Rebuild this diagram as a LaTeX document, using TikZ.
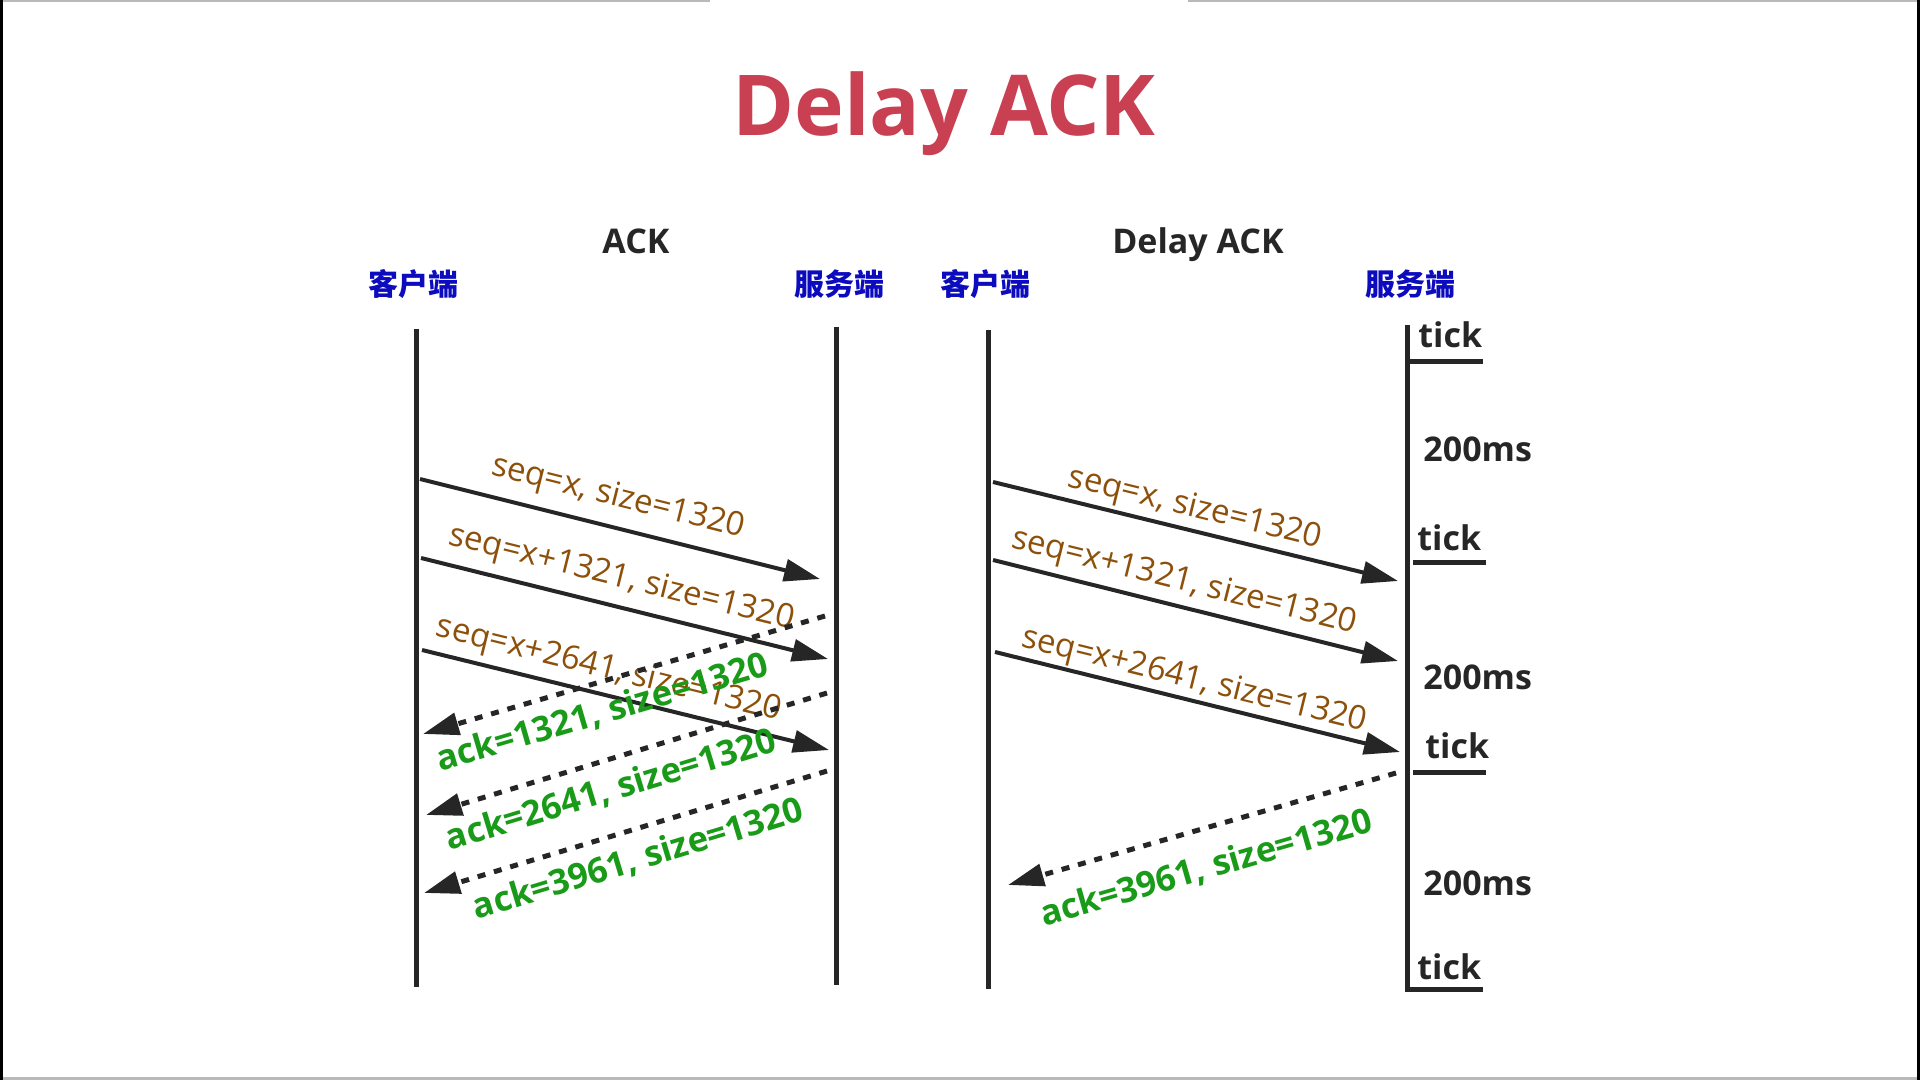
\documentclass[tikz,border=0pt]{standalone}
\usepackage{fontspec}
\setmainfont{Open Sans}
\newfontfamily\cjk{Noto Sans CJK SC}
\usetikzlibrary{arrows.meta}

\definecolor{titlered}{RGB}{201,64,82}
\definecolor{peerblue}{RGB}{12,12,190}
\definecolor{seqbrown}{RGB}{140,80,10}
\definecolor{ackgreen}{RGB}{25,155,25}
\definecolor{linegray}{RGB}{38,38,38}

\begin{document}
\begin{tikzpicture}[x=0.5pt, y=-0.5pt, >={Triangle[length=18pt,width=11pt]},
	lifeline/.style={color=linegray, line width=2.5pt},
	seqmsg/.style={->, color=linegray, line width=2pt},
	ackmsg/.style={->, color=linegray, line width=2.5pt, dash pattern=on 4pt off 4.5pt},
	seqlabel/.style={sloped, inner sep=0pt, text=seqbrown, font=\fontsize{16.5}{18}\selectfont},
	acklabel/.style={sloped, inner sep=0pt, text=ackgreen, font=\bfseries\fontsize{17.4}{19}\selectfont},
	peer/.style={inner sep=0pt, text=peerblue, font=\cjk\bfseries\fontsize{15}{17}\selectfont},
	heading/.style={anchor=base, inner sep=0pt, text=linegray, font=\bfseries\fontsize{17}{19}\selectfont},
	ticklabel/.style={anchor=base west, inner sep=0pt, text=linegray, font=\bfseries\fontsize{17}{19}\selectfont},
	waitlabel/.style={anchor=base west, inner sep=0pt, text=linegray, font=\bfseries\fontsize{17}{19}\selectfont}]

\useasboundingbox (0,0) rectangle (1920,1080);
\fill[white] (0,0) rectangle (1920,1080);

\draw[color=gray!55, line width=1pt] (0,1)--(710,1);
\draw[color=gray!55, line width=1pt] (1188,1)--(1920,1);
\draw[color=gray!55, line width=1.5pt] (0,1078)--(1920,1078);
\draw[color=black, line width=1.5pt] (1.5,0)--(1.5,1080);
\draw[color=black, line width=1.5pt] (1918,0)--(1918,1080);

\node (title) at (944,136) [anchor=base, inner sep=0pt, text=titlered,
	font=\bfseries\fontsize{42}{50}\selectfont] {Delay ACK};

\node (headA) at (636,254) [heading] {ACK};
\node (headB) at (1198,254) [heading] {Delay ACK};

\node (clientA) at (413,284) [peer] {客户端};
\node (serverA) at (839,284) [peer] {服务端};
\node (clientB) at (985,284) [peer] {客户端};
\node (serverB) at (1410,284) [peer] {服务端};

% lifelines
\coordinate (cAt) at (416,329);  \coordinate (cAb) at (416,987);
\coordinate (sAt) at (836,327);  \coordinate (sAb) at (836,985);
\coordinate (cBt) at (988,330);  \coordinate (cBb) at (988,989);
\coordinate (sBt) at (1407,325); \coordinate (sBb) at (1407,989);

\draw[lifeline] (cAt)--(cAb);
\draw[lifeline] (sAt)--(sAb);
\draw[lifeline] (cBt)--(cBb);
\draw[lifeline] (sBt)--(sBb)--(1483,989);

\draw[lifeline] (1407,362)--(1483,362);
\draw[lifeline] (1413,562)--(1486,562);
\draw[lifeline] (1413,772)--(1486,772);

\node (tick1) at (1418,348) [ticklabel] {tick};
\node (tick2) at (1417,550) [ticklabel] {tick};
\node (tick3) at (1425,758) [ticklabel] {tick};
\node (tick4) at (1417,979) [ticklabel] {tick};

\node (wait1) at (1423,461) [waitlabel] {200ms};
\node (wait2) at (1423,689) [waitlabel] {200ms};
\node (wait3) at (1423,895) [waitlabel] {200ms};

% ACK
\coordinate (cA1) at (420,479); \coordinate (sA1) at (820,579);
\coordinate (cA2) at (421,558); \coordinate (sA2) at (828,659);
\coordinate (cA3) at (422,650); \coordinate (sA3) at (829,750);
\coordinate (sA4) at (825,616); \coordinate (cA4) at (423,734);
\coordinate (sA5) at (827,693); \coordinate (cA5) at (426,815);
\coordinate (sA6) at (827,771); \coordinate (cA6) at (424,893);

\draw[seqmsg] (cA1)--(sA1) node[seqlabel, pos=0.477, yshift=14.8pt] {seq=x, size=1320};
\draw[seqmsg] (cA2)--(sA2) node[seqlabel, pos=0.476, yshift=14pt] {seq=x+1321, size=1320};
\draw[seqmsg] (cA3)--(sA3) node[seqlabel, pos=0.444, yshift=12.4pt] {seq=x+2641, size=1320};

\draw[ackmsg] (sA4)--(cA4) node[acklabel, pos=0.575, yshift=-15pt] {ack=1321, size=1320};
\draw[ackmsg] (sA5)--(cA5) node[acklabel, pos=0.56, yshift=-15pt] {ack=2641, size=1320};
\draw[ackmsg] (sA6)--(cA6) node[acklabel, pos=0.49, yshift=-15pt] {ack=3961, size=1320};

% Delay ACK
\coordinate (cB1) at (993,482);  \coordinate (sB1) at (1398,581);
\coordinate (cB2) at (993,560);  \coordinate (sB2) at (1398,661);
\coordinate (cB3) at (995,652);  \coordinate (sB3) at (1400,752);
\coordinate (sB4) at (1396,773); \coordinate (cB4) at (1008,885);

\draw[seqmsg] (cB1)--(sB1) node[seqlabel, pos=0.486, yshift=10.9pt] {seq=x, size=1320};
\draw[seqmsg] (cB2)--(sB2) node[seqlabel, pos=0.457, yshift=12.2pt] {seq=x+1321, size=1320};
\draw[seqmsg] (cB3)--(sB3) node[seqlabel, pos=0.48, yshift=9.9pt] {seq=x+2641, size=1320};

\draw[ackmsg] (sB4)--(cB4) node[acklabel, pos=0.517, yshift=-19.5pt] {ack=3961, size=1320};

\end{tikzpicture}
\end{document}
